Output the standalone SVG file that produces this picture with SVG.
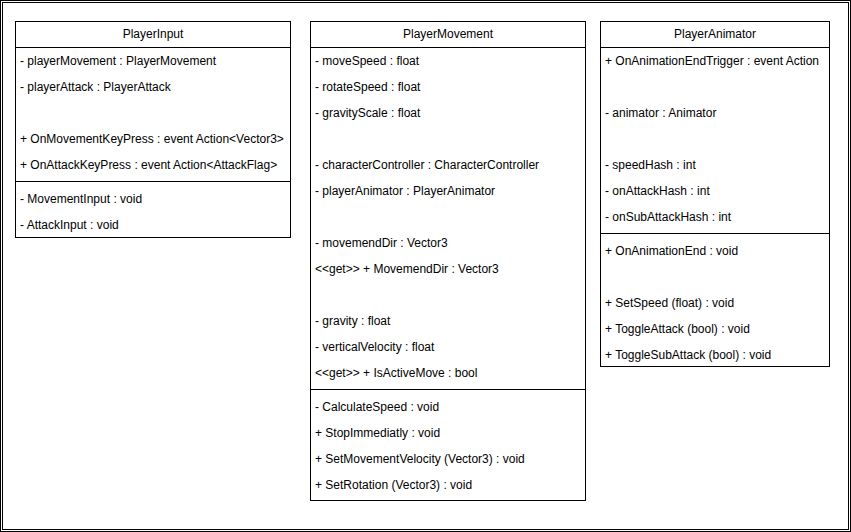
<svg xmlns="http://www.w3.org/2000/svg" width="851" height="532" viewBox="0 0 851 532">
<style>
.box{fill:#fff;stroke:#000;stroke-width:1}
.ln{stroke:#000;stroke-width:1;fill:none}
text{font-family:"Liberation Sans",Arial,sans-serif;font-size:12px;fill:#000}
.h{text-anchor:middle}
</style>
<rect x="0" y="0" width="851" height="532" fill="#fff"/>
<rect class="ln" x="0.5" y="0.5" width="850" height="531"/>
<rect class="ln" x="2.5" y="2.5" width="846" height="527"/>
<g id="connectors"></g>
<g id="PlayerInput">
<rect class="box" x="15.5" y="21.5" width="275" height="216"/>
<line class="ln" x1="15.5" y1="47.5" x2="290.5" y2="47.5"/>
<line class="ln" x1="15.5" y1="181.5" x2="290.5" y2="181.5"/>
<text class="h" x="153" y="38">PlayerInput</text>
<text x="20" y="65">- playerMovement : PlayerMovement</text>
<text x="20" y="91">- playerAttack : PlayerAttack</text>
<text x="20" y="143">+ OnMovementKeyPress : event Action&lt;Vector3&gt;</text>
<text x="20" y="169">+ OnAttackKeyPress : event Action&lt;AttackFlag&gt;</text>
<text x="20" y="203">- MovementInput : void</text>
<text x="20" y="229">- AttackInput : void</text>
</g>
<g id="PlayerMovement">
<rect class="box" x="310.5" y="21.5" width="275" height="479"/>
<line class="ln" x1="310.5" y1="47.5" x2="585.5" y2="47.5"/>
<line class="ln" x1="310.5" y1="389.5" x2="585.5" y2="389.5"/>
<text class="h" x="448" y="38">PlayerMovement</text>
<text x="315" y="65">- moveSpeed : float</text>
<text x="315" y="91">- rotateSpeed : float</text>
<text x="315" y="117">- gravityScale : float</text>
<text x="315" y="169">- characterController : CharacterController</text>
<text x="315" y="195">- playerAnimator : PlayerAnimator</text>
<text x="315" y="247">- movemendDir : Vector3</text>
<text x="315" y="273">&lt;&lt;get&gt;&gt; + MovemendDir : Vector3</text>
<text x="315" y="325">- gravity : float</text>
<text x="315" y="351">- verticalVelocity : float</text>
<text x="315" y="377">&lt;&lt;get&gt;&gt; + IsActiveMove : bool</text>
<text x="315" y="411">- CalculateSpeed : void</text>
<text x="315" y="437">+ StopImmediatly : void</text>
<text x="315" y="463">+ SetMovementVelocity (Vector3) : void</text>
<text x="315" y="489">+ SetRotation (Vector3) : void</text>
</g>
<g id="PlayerAnimator">
<rect class="box" x="600.5" y="21.5" width="229" height="345"/>
<line class="ln" x1="600.5" y1="47.5" x2="829.5" y2="47.5"/>
<line class="ln" x1="600.5" y1="233.5" x2="829.5" y2="233.5"/>
<text class="h" x="715" y="38">PlayerAnimator</text>
<text x="605" y="65">+ OnAnimationEndTrigger : event Action</text>
<text x="605" y="117">- animator : Animator</text>
<text x="605" y="169">- speedHash : int</text>
<text x="605" y="195">- onAttackHash : int</text>
<text x="605" y="221">- onSubAttackHash : int</text>
<text x="605" y="255">+ OnAnimationEnd : void</text>
<text x="605" y="307">+ SetSpeed (float) : void</text>
<text x="605" y="333">+ ToggleAttack (bool) : void</text>
<text x="605" y="359">+ ToggleSubAttack (bool) : void</text>
</g>
</svg>
